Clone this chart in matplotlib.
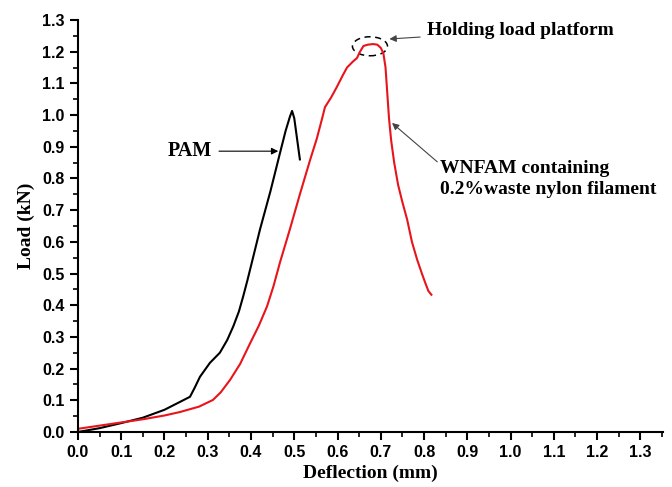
import matplotlib
matplotlib.use("Agg")
import matplotlib.pyplot as plt
from matplotlib.patches import Ellipse
from matplotlib.ticker import MultipleLocator, FormatStrFormatter

# PAM (black)
pam_x = [0.0, 0.05, 0.10, 0.15, 0.20, 0.236, 0.259, 0.270, 0.282, 0.305, 0.328, 0.345, 0.359,
         0.372, 0.382, 0.392, 0.402, 0.421, 0.445, 0.467, 0.480, 0.490, 0.495, 0.500, 0.506, 0.513]
pam_y = [0.0, 0.012, 0.028, 0.045, 0.070, 0.095, 0.111, 0.140, 0.174, 0.218, 0.250, 0.290, 0.333,
         0.380, 0.428, 0.480, 0.535, 0.640, 0.760, 0.880, 0.950, 0.995, 1.013, 0.990, 0.930, 0.860]

# WNFAM (red)
wn_x = [0.0, 0.05, 0.10, 0.15, 0.20, 0.236, 0.28, 0.312, 0.330, 0.352, 0.375, 0.398, 0.418,
        0.437, 0.452, 0.467, 0.490, 0.513, 0.537, 0.552, 0.564, 0.571, 0.585, 0.599, 0.612,
        0.622, 0.635, 0.645, 0.652, 0.660, 0.670, 0.682, 0.692, 0.700, 0.706, 0.711, 0.715,
        0.719, 0.724, 0.731, 0.740, 0.750, 0.761, 0.772, 0.784, 0.795, 0.803, 0.810, 0.817]
wn_y = [0.010, 0.020, 0.030, 0.040, 0.052, 0.063, 0.080, 0.101, 0.125, 0.165, 0.215, 0.280, 0.335,
        0.396, 0.460, 0.535, 0.640, 0.750, 0.860, 0.925, 0.987, 1.025, 1.055, 1.090, 1.125,
        1.150, 1.168, 1.180, 1.200, 1.218, 1.222, 1.224, 1.222, 1.212, 1.195, 1.150, 1.070,
        0.990, 0.920, 0.850, 0.780, 0.725, 0.670, 0.600, 0.544, 0.500, 0.470, 0.445, 0.433]

fig = plt.figure(figsize=(6.72, 4.87), dpi=100)
ax = fig.add_axes([0.116, 0.113, 0.871, 0.846])

ax.plot(pam_x, pam_y, color="black", lw=1.5)
ax.plot(wn_x, wn_y, color="#e8141b", lw=1.5)

ax.set_xlim(0, 1.353)
ax.set_ylim(0, 1.3)
ax.spines["top"].set_visible(False)
ax.spines["right"].set_visible(False)
ax.spines["left"].set_linewidth(1.5)
ax.spines["bottom"].set_linewidth(1.5)
ax.xaxis.set_major_locator(MultipleLocator(0.1))
ax.xaxis.set_minor_locator(MultipleLocator(0.05))
ax.yaxis.set_major_locator(MultipleLocator(0.1))
ax.yaxis.set_minor_locator(MultipleLocator(0.05))
ax.xaxis.set_major_formatter(FormatStrFormatter("%.1f"))
ax.yaxis.set_major_formatter(FormatStrFormatter("%.1f"))
ax.tick_params(which="major", direction="out", length=6, width=1.5)
ax.tick_params(which="minor", direction="out", length=3.5, width=1.2)
for lab in ax.get_xticklabels() + ax.get_yticklabels():
    lab.set_fontfamily("Liberation Sans")
    lab.set_fontweight("bold")
    lab.set_fontsize(11.5)

serif = "Liberation Serif"
ax.set_xlabel("Deflection (mm)", fontfamily=serif, fontweight="bold", fontsize=14, labelpad=3)
ax.set_ylabel("Load (kN)", fontfamily=serif, fontweight="bold", fontsize=14, labelpad=5)

ax.annotate("PAM", xy=(0.463, 0.886), xytext=(0.31, 0.886),
            fontfamily=serif, fontweight="bold", fontsize=14.5,
            ha="right", va="center",
            arrowprops=dict(arrowstyle="-|>", color="black", lw=0.8, mutation_scale=10,
                            shrinkA=3, shrinkB=0))

ell = Ellipse((0.675, 1.217), width=0.081, height=0.060, fill=False,
              ls=(0, (4, 3)), lw=1.1, ec="black")
ax.add_patch(ell)
ax.annotate("Holding load platform", xy=(0.72, 1.24), xytext=(0.807, 1.266),
            fontfamily=serif, fontweight="bold", fontsize=14,
            ha="left", va="center",
            arrowprops=dict(arrowstyle="-|>", color="#444444", lw=0.8, mutation_scale=10,
                            shrinkA=3, shrinkB=0))
ax.annotate("WNFAM containing\n0.2%waste nylon filament", xy=(0.726, 0.975), xytext=(0.837, 0.797),
            fontfamily=serif, fontweight="bold", fontsize=14,
            ha="left", va="center", linespacing=1.3,
            arrowprops=dict(arrowstyle="-|>", color="#444444", lw=0.8, mutation_scale=10,
                            shrinkA=0, shrinkB=0, relpos=(0, 0.9)))

fig.savefig("out.png", dpi=100)
